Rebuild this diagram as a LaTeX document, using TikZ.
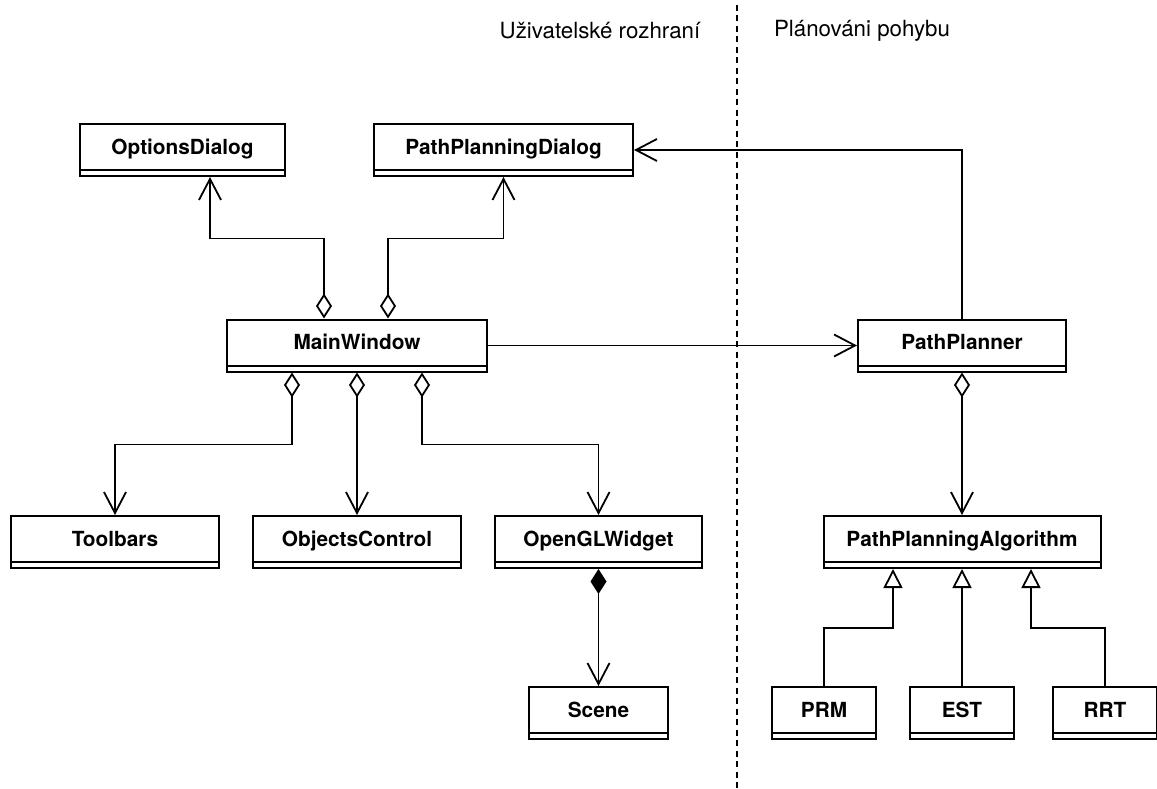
\documentclass[tikz,border=0pt]{standalone}
\usepackage{fontspec}
\setmainfont{TeX Gyre Heros}
\usetikzlibrary{arrows.meta}

\begin{document}
\begin{tikzpicture}[x=1pt,y=-1pt,
    cls/.style={draw, line width=2pt, minimum height=52pt, inner sep=0pt,
      font=\bfseries\fontsize{20.8}{24}\selectfont, text height=14pt, text depth=5.6pt},
    conn/.style={line width=1.8pt},
    aggr/.style={conn, {Diamond[open,length=25pt,width=16pt]}-{Straight Barb[length=21pt,width=22pt]}},
    comp/.style={conn, {Diamond[length=25pt,width=16pt]}-{Straight Barb[length=21pt,width=22pt]}},
    assoc/.style={conn, -{Straight Barb[length=21pt,width=22pt]}},
    inherit/.style={conn, -{Triangle[open,length=19pt,width=19pt]}},
    side/.style={font=\fontsize{22.3}{26}\selectfont}]
    \useasboundingbox (0,0) rectangle (1157,789);

    % dividing line and the two parts
    \coordinate (divtop) at (737,5);
    \coordinate (divbot) at (737,789);
    \draw[line width=1.6pt, dash pattern=on 6pt off 4.5pt] (divtop) -- (divbot);
    \node[side] (ui) at (600,31) {Uživatelské rozhraní};
    \node[side] (plan) at (862,31) {Plánováni pohybu};

    % classes
    \node[cls, minimum width=205pt] (opt) at (182.5,150) {OptionsDialog};
    \node[cls, minimum width=259pt] (ppd) at (503.5,150) {PathPlanningDialog};
    \node[cls, minimum width=260pt] (mw) at (357,345.5) {MainWindow};
    \node[cls, minimum width=208pt] (pp) at (962,345.5) {PathPlanner};
    \node[cls, minimum width=208pt] (tb) at (115,542) {Toolbars};
    \node[cls, minimum width=208pt] (oc) at (357,542) {ObjectsControl};
    \node[cls, minimum width=207pt] (gl) at (598.5,542) {OpenGLWidget};
    \node[cls, minimum width=277pt] (ppa) at (962,542) {PathPlanningAlgorithm};
    \node[cls, minimum width=139pt] (sc) at (598.5,713) {Scene};
    \node[cls, minimum width=104pt] (prm) at (824,713) {PRM};
    \node[cls, minimum width=104pt] (est) at (962,713) {EST};
    \node[cls, minimum width=104pt] (rrt) at (1105,713) {RRT};

    % empty compartment at the foot of each class
    \foreach \n in {opt,ppd,mw,pp,tb,oc,gl,ppa,sc,prm,est,rrt}
      \draw[line width=2pt, shorten <=1pt, shorten >=1pt]
        ([yshift=7pt]\n.south west) -- ([yshift=7pt]\n.south east);

    % relations
    \draw[aggr] ([xshift=-33pt]mw.north) -- ++(0,-80) -| ([xshift=27.5pt]opt.south);
    \draw[aggr] ([xshift=31pt]mw.north) -- ++(0,-80) -| (ppd.south);
    \draw[assoc] (mw.east) -- (pp.west);
    \draw[assoc] (pp.north) |- (ppd.east);
    \draw[aggr] ([xshift=-65pt]mw.south) -- ++(0,72) -| (tb.north);
    \draw[aggr] (mw.south) -- (oc.north);
    \draw[aggr] ([xshift=65pt]mw.south) -- ++(0,72) -| (gl.north);
    \draw[comp] (gl.south) -- (sc.north);
    \draw[aggr] (pp.south) -- (ppa.north);
    \draw[inherit] (prm.north) -- ++(0,-58) -| ([xshift=-69pt]ppa.south);
    \draw[inherit] (est.north) -- (ppa.south);
    \draw[inherit] (rrt.north) -- ++(0,-58) -| ([xshift=69pt]ppa.south);
  \end{tikzpicture}
\end{document}
